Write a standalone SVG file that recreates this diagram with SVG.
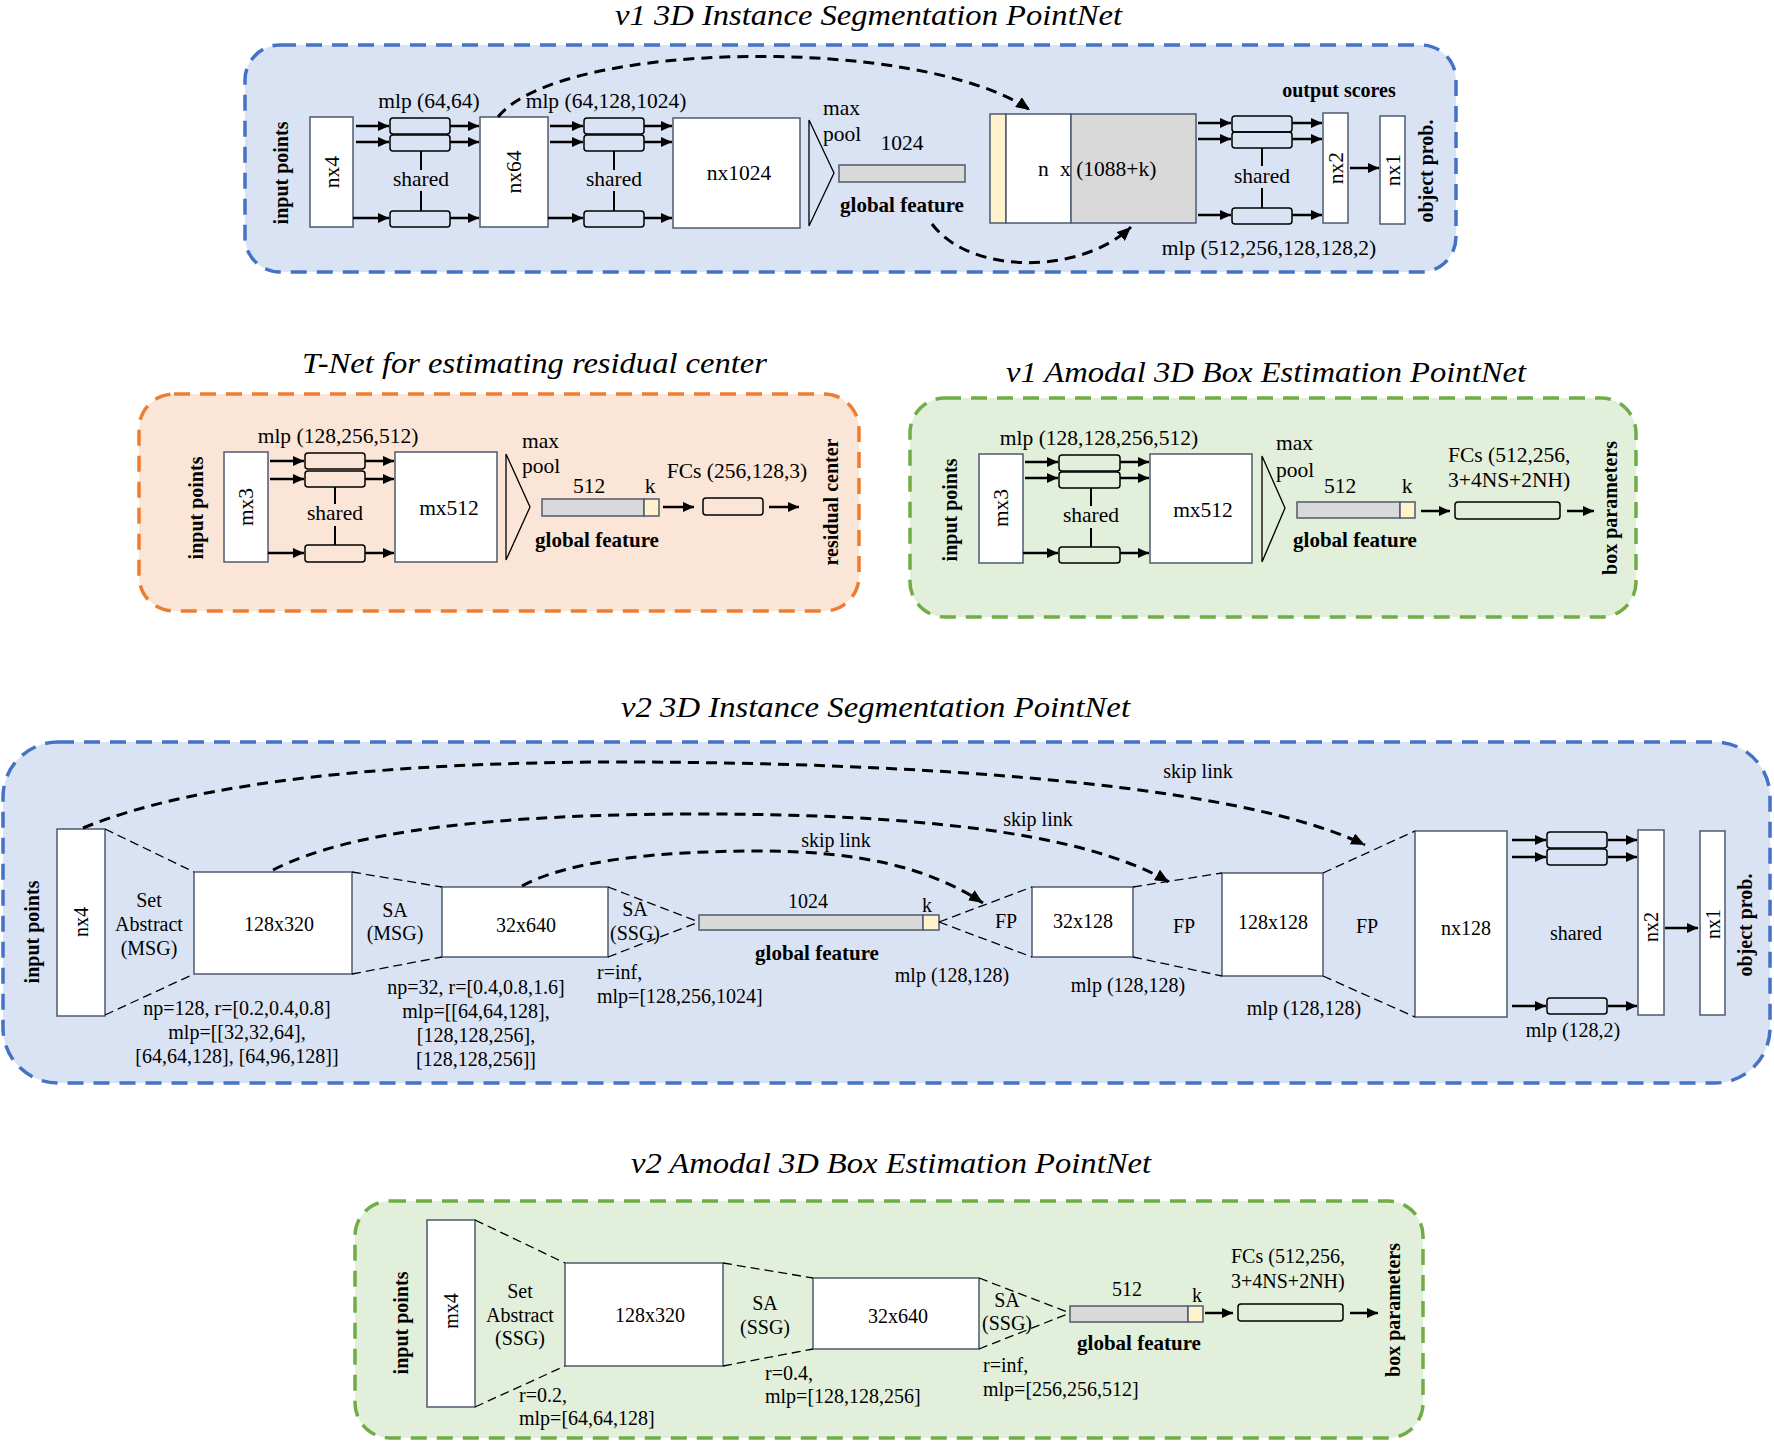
<svg xmlns="http://www.w3.org/2000/svg" width="1774" height="1442" viewBox="0 0 1774 1442">
<defs>
<style>
text{font-family:"Liberation Serif","Times New Roman",serif;fill:#000}
.t{font-size:21.5px}
.s{font-size:20px}
.b{font-weight:bold;font-size:20px}
.gf{font-weight:bold;font-size:21px}
.ti{font-style:italic;font-size:30px}
.m{text-anchor:middle}
.box{fill:#fff;stroke:#4d5b6e;stroke-width:1.5}
.gray{fill:#d9d9d9;stroke:#4d5b6e;stroke-width:1.5}
.yel{fill:#fff2cc;stroke:#4d5b6e;stroke-width:1.5}
.ml{fill:none;stroke:#000;stroke-width:1.5}
.ln{stroke:#000;stroke-width:2}
.arr{stroke:#000;stroke-width:2.5;marker-end:url(#ah)}
.dc{fill:none;stroke:#000;stroke-width:3;stroke-dasharray:11 7;marker-end:url(#ah2)}
.tz{stroke:#000;stroke-width:1.3;stroke-dasharray:9 5}
.tri{fill:none;stroke:#000;stroke-width:1.3}
.sb{stroke-width:3.5;stroke-dasharray:16 10}
</style>
<marker id="ah" markerUnits="userSpaceOnUse" markerWidth="11" markerHeight="10" refX="11" refY="5" orient="auto"><path d="M0,0 L11,5 L0,10 z" fill="#000"/></marker>
<marker id="ah2" markerUnits="userSpaceOnUse" markerWidth="14" markerHeight="12" refX="14" refY="6" orient="auto"><path d="M0,0 L14,6 L0,12 z" fill="#000"/></marker>
</defs>
<rect width="1774" height="1442" fill="#fff"/>

<!-- section frames -->
<g id="frames">
<rect class="sb" x="245" y="45" width="1211" height="227" rx="35" fill="#dae3f3" stroke="#4472c4"/>
<rect class="sb" x="139" y="394" width="720" height="217" rx="35" fill="#fbe5d6" stroke="#ed7d31"/>
<rect class="sb" x="910" y="398" width="726" height="219" rx="35" fill="#e2efda" stroke="#70ad47"/>
<rect class="sb" x="3" y="742" width="1767" height="341" rx="55" fill="#dae3f3" stroke="#4472c4"/>
<rect class="sb" x="355" y="1201" width="1068" height="237" rx="35" fill="#e2efda" stroke="#70ad47"/>
</g>

<g id="titles">
<text class="ti" x="615" y="25" textLength="507" lengthAdjust="spacingAndGlyphs">v1 3D Instance Segmentation PointNet</text>
<text class="ti" x="302" y="373" textLength="465" lengthAdjust="spacingAndGlyphs">T-Net for estimating residual center</text>
<text class="ti" x="1006" y="382" textLength="520" lengthAdjust="spacingAndGlyphs">v1 Amodal 3D Box Estimation PointNet</text>
<text class="ti" x="621" y="717" textLength="509" lengthAdjust="spacingAndGlyphs">v2 3D Instance Segmentation PointNet</text>
<text class="ti" x="631" y="1173" textLength="520" lengthAdjust="spacingAndGlyphs">v2 Amodal 3D Box Estimation PointNet</text>
</g>

<!-- ===== v1 seg ===== -->
<g id="v1-input"><text class="b m" dominant-baseline="central" transform="translate(281,173) rotate(-90)">input points</text></g>
<g id="v1-nx4"><rect class="box" x="310" y="117" width="43" height="110"/><text class="t m" dominant-baseline="central" transform="translate(332,172) rotate(-90)">nx4</text></g>
<g id="v1-mlp1">
<text class="t m" x="429" y="108">mlp (64,64)</text>
<rect class="ml" x="390" y="118" width="60" height="16" rx="3"/>
<rect class="ml" x="390" y="135" width="60" height="16" rx="3"/>
<rect class="ml" x="390" y="211" width="60" height="16" rx="3"/>
<line class="ln" x1="421" y1="151" x2="421" y2="170"/><line class="ln" x1="421" y1="191" x2="421" y2="211"/>
<text class="t m" x="421" y="186">shared</text>
</g>
<g id="v1-nx64"><rect class="box" x="480" y="117" width="68" height="110"/><text class="t m" dominant-baseline="central" transform="translate(514,172) rotate(-90)">nx64</text></g>
<g id="v1-mlp2">
<text class="t m" x="606" y="108">mlp (64,128,1024)</text>
<rect class="ml" x="584" y="118" width="60" height="16" rx="3"/>
<rect class="ml" x="584" y="135" width="60" height="16" rx="3"/>
<rect class="ml" x="584" y="211" width="60" height="16" rx="3"/>
<line class="ln" x1="614" y1="151" x2="614" y2="170"/><line class="ln" x1="614" y1="191" x2="614" y2="211"/>
<text class="t m" x="614" y="186">shared</text>
</g>
<g id="v1-nx1024"><rect class="box" x="673" y="118" width="127" height="110"/><text class="t m" x="739" y="180">nx1024</text></g>
<g id="v1-maxpool"><polygon class="tri" points="809,120 834,173 809,226"/><text class="t" x="823" y="115">max</text><text class="t" x="823" y="141">pool</text></g>
<g id="v1-global"><text class="t m" x="902" y="150">1024</text><rect class="gray" x="839" y="165" width="126" height="17"/><text class="gf m" x="902" y="212">global feature</text></g>
<g id="v1-concat">
<rect class="yel" x="990" y="114" width="16" height="109"/>
<rect class="box" x="1006" y="114" width="65" height="109"/>
<rect class="gray" x="1071" y="114" width="125" height="109"/>
<text class="t" x="1038" y="176">n</text><text class="t" x="1060" y="176">x (1088+k)</text>
</g>
<g id="v1-mlp3">
<text class="b m" x="1339" y="97">output scores</text>
<rect class="ml" x="1232" y="116" width="60" height="16" rx="3"/>
<rect class="ml" x="1232" y="132" width="60" height="16" rx="3"/>
<rect class="ml" x="1232" y="208" width="60" height="16" rx="3"/>
<line class="ln" x1="1262" y1="148" x2="1262" y2="166"/><line class="ln" x1="1262" y1="188" x2="1262" y2="208"/>
<text class="t m" x="1262" y="183">shared</text>
<text class="t m" x="1269" y="255">mlp (512,256,128,128,2)</text>
</g>
<g id="v1-nx2"><rect class="box" x="1323" y="113" width="25" height="110"/><text class="t m" dominant-baseline="central" transform="translate(1336,168) rotate(-90)">nx2</text></g>
<g id="v1-nx1"><rect class="box" x="1380" y="116" width="25" height="108"/><text class="t m" dominant-baseline="central" transform="translate(1393,170) rotate(-90)">nx1</text></g>
<g id="v1-out"><text class="b m" dominant-baseline="central" transform="translate(1426,171) rotate(-90)">object prob.</text></g>

<!-- ===== T-Net ===== -->
<g id="tn-input"><text class="b m" dominant-baseline="central" transform="translate(196,508) rotate(-90)">input points</text></g>
<g id="tn-mx3"><rect class="box" x="224" y="452" width="44" height="110"/><text class="t m" dominant-baseline="central" transform="translate(246,507) rotate(-90)">mx3</text></g>
<g id="tn-mlp">
<text class="t m" x="338" y="443">mlp (128,256,512)</text>
<rect class="ml" x="305" y="453" width="60" height="16" rx="3"/>
<rect class="ml" x="305" y="471" width="60" height="16" rx="3"/>
<rect class="ml" x="305" y="545" width="60" height="17" rx="3"/>
<line class="ln" x1="335" y1="487" x2="335" y2="504"/><line class="ln" x1="335" y1="526" x2="335" y2="545"/>
<text class="t m" x="335" y="520">shared</text>
</g>
<g id="tn-mx512"><rect class="box" x="395" y="452" width="102" height="110"/><text class="t m" x="449" y="515">mx512</text></g>
<g id="tn-maxpool"><polygon class="tri" points="506,454 530,507 506,560"/><text class="t" x="522" y="448">max</text><text class="t" x="522" y="473">pool</text></g>
<g id="tn-global"><text class="t m" x="589" y="493">512</text><text class="t m" x="650" y="493">k</text><rect class="gray" x="542" y="499" width="102" height="17"/><rect class="yel" x="644" y="499" width="15" height="17"/><text class="gf m" x="597" y="547">global feature</text></g>
<g id="tn-fc"><text class="t m" x="737" y="478">FCs (256,128,3)</text><rect class="ml" x="703" y="498" width="60" height="17" rx="3"/></g>
<g id="tn-out"><text class="b m" dominant-baseline="central" transform="translate(831,502) rotate(-90)">residual center</text></g>

<!-- ===== v1 amodal ===== -->
<g id="a1-input"><text class="b m" dominant-baseline="central" transform="translate(950,510) rotate(-90)">input points</text></g>
<g id="a1-mx3"><rect class="box" x="979" y="454" width="44" height="109"/><text class="t m" dominant-baseline="central" transform="translate(1001,508) rotate(-90)">mx3</text></g>
<g id="a1-mlp">
<text class="t m" x="1099" y="445">mlp (128,128,256,512)</text>
<rect class="ml" x="1059" y="455" width="61" height="16" rx="3"/>
<rect class="ml" x="1059" y="472" width="61" height="16" rx="3"/>
<rect class="ml" x="1059" y="547" width="61" height="16" rx="3"/>
<line class="ln" x1="1091" y1="488" x2="1091" y2="506"/><line class="ln" x1="1091" y1="528" x2="1091" y2="547"/>
<text class="t m" x="1091" y="522">shared</text>
</g>
<g id="a1-mx512"><rect class="box" x="1150" y="454" width="102" height="109"/><text class="t m" x="1203" y="517">mx512</text></g>
<g id="a1-maxpool"><polygon class="tri" points="1262,456 1285,508 1262,562"/><text class="t" x="1276" y="450">max</text><text class="t" x="1276" y="477">pool</text></g>
<g id="a1-global"><text class="t m" x="1340" y="493">512</text><text class="t m" x="1407" y="493">k</text><rect class="gray" x="1297" y="502" width="103" height="16"/><rect class="yel" x="1400" y="502" width="15" height="16"/><text class="gf m" x="1355" y="547">global feature</text></g>
<g id="a1-fc"><text class="t" x="1448" y="462">FCs (512,256,</text><text class="t" x="1448" y="487">3+4NS+2NH)</text><rect class="ml" x="1455" y="502" width="105" height="17" rx="3"/></g>
<g id="a1-out"><text class="b m" dominant-baseline="central" transform="translate(1610,508) rotate(-90)">box parameters</text></g>

<!-- ===== v2 seg ===== -->
<g id="v2-input"><text class="b m" dominant-baseline="central" transform="translate(32,932) rotate(-90)">input points</text></g>
<g id="v2-nx4"><rect class="box" x="57" y="829" width="48" height="187"/><text class="s m" dominant-baseline="central" transform="translate(81,922) rotate(-90)">nx4</text></g>
<g id="v2-sa1"><text class="s m" x="149" y="907">Set</text><text class="s m" x="149" y="931">Abstract</text><text class="s m" x="149" y="955">(MSG)</text>
<text class="s m" x="237" y="1015">np=128, r=[0.2,0.4,0.8]</text><text class="s m" x="237" y="1039">mlp=[[32,32,64],</text><text class="s m" x="237" y="1063">[64,64,128], [64,96,128]]</text></g>
<g id="v2-128x320"><rect class="box" x="194" y="872" width="158" height="102"/><text class="s m" x="279" y="931">128x320</text></g>
<g id="v2-sa2"><text class="s m" x="395" y="917">SA</text><text class="s m" x="395" y="940">(MSG)</text>
<text class="s m" x="476" y="994">np=32, r=[0.4,0.8,1.6]</text><text class="s m" x="476" y="1018">mlp=[[64,64,128],</text><text class="s m" x="476" y="1042">[128,128,256],</text><text class="s m" x="476" y="1066">[128,128,256]]</text></g>
<g id="v2-32x640"><rect class="box" x="442" y="887" width="166" height="70"/><text class="s m" x="526" y="932">32x640</text></g>
<g id="v2-sa3"><text class="s m" x="635" y="916">SA</text><text class="s m" x="635" y="940">(SSG)</text><text class="s" x="597" y="979">r=inf,</text><text class="s" x="597" y="1003">mlp=[128,256,1024]</text></g>
<g id="v2-global"><text class="s m" x="808" y="908">1024</text><text class="s m" x="927" y="912">k</text><rect class="gray" x="699" y="915" width="224" height="15"/><rect class="yel" x="923" y="915" width="16" height="15"/><text class="gf m" x="817" y="960">global feature</text></g>
<g id="v2-fp1"><text class="s m" x="1006" y="928">FP</text><text class="s m" x="952" y="982">mlp (128,128)</text></g>
<g id="v2-32x128"><rect class="box" x="1032" y="887" width="101" height="70"/><text class="s m" x="1083" y="928">32x128</text></g>
<g id="v2-fp2"><text class="s m" x="1184" y="933">FP</text><text class="s m" x="1128" y="992">mlp (128,128)</text></g>
<g id="v2-128x128"><rect class="box" x="1222" y="873" width="101" height="103"/><text class="s m" x="1273" y="929">128x128</text></g>
<g id="v2-fp3"><text class="s m" x="1367" y="933">FP</text><text class="s m" x="1304" y="1015">mlp (128,128)</text></g>
<g id="v2-nx128"><rect class="box" x="1415" y="831" width="92" height="186"/><text class="s m" x="1466" y="935">nx128</text></g>
<g id="v2-mlp">
<rect class="ml" x="1547" y="832" width="60" height="16" rx="3"/>
<rect class="ml" x="1547" y="849" width="60" height="16" rx="3"/>
<rect class="ml" x="1547" y="998" width="60" height="16" rx="3"/>
<text class="s m" x="1576" y="940">shared</text>
<text class="s m" x="1573" y="1037">mlp (128,2)</text>
</g>
<g id="v2-nx2"><rect class="box" x="1638" y="830" width="26" height="185"/><text class="s m" dominant-baseline="central" transform="translate(1651,927) rotate(-90)">nx2</text></g>
<g id="v2-nx1"><rect class="box" x="1700" y="831" width="25" height="184"/><text class="s m" dominant-baseline="central" transform="translate(1713,924) rotate(-90)">nx1</text></g>
<g id="v2-out"><text class="b m" dominant-baseline="central" transform="translate(1745,925) rotate(-90)">object prob.</text></g>

<!-- ===== v2 amodal ===== -->
<g id="a2-input"><text class="b m" dominant-baseline="central" transform="translate(401,1323) rotate(-90)">input points</text></g>
<g id="a2-mx4"><rect class="box" x="427" y="1220" width="48" height="187"/><text class="s m" dominant-baseline="central" transform="translate(451,1311) rotate(-90)">mx4</text></g>
<g id="a2-sa1"><text class="s m" x="520" y="1298">Set</text><text class="s m" x="520" y="1322">Abstract</text><text class="s m" x="520" y="1345">(SSG)</text><text class="s" x="519" y="1402">r=0.2,</text><text class="s" x="519" y="1425">mlp=[64,64,128]</text></g>
<g id="a2-128x320"><rect class="box" x="565" y="1263" width="158" height="103"/><text class="s m" x="650" y="1322">128x320</text></g>
<g id="a2-sa2"><text class="s m" x="765" y="1310">SA</text><text class="s m" x="765" y="1334">(SSG)</text><text class="s" x="765" y="1380">r=0.4,</text><text class="s" x="765" y="1403">mlp=[128,128,256]</text></g>
<g id="a2-32x640"><rect class="box" x="813" y="1278" width="166" height="71"/><text class="s m" x="898" y="1323">32x640</text></g>
<g id="a2-sa3"><text class="s m" x="1007" y="1307">SA</text><text class="s m" x="1007" y="1330">(SSG)</text><text class="s" x="983" y="1372">r=inf,</text><text class="s" x="983" y="1396">mlp=[256,256,512]</text></g>
<g id="a2-global"><text class="s m" x="1127" y="1296">512</text><text class="s m" x="1197" y="1302">k</text><rect class="gray" x="1070" y="1306" width="118" height="16"/><rect class="yel" x="1188" y="1306" width="15" height="16"/><text class="gf m" x="1139" y="1350">global feature</text></g>
<g id="a2-fc"><text class="s" x="1231" y="1263">FCs (512,256,</text><text class="s" x="1231" y="1288">3+4NS+2NH)</text><rect class="ml" x="1238" y="1304" width="105" height="17" rx="3"/></g>
<g id="a2-out"><text class="b m" dominant-baseline="central" transform="translate(1393,1310) rotate(-90)">box parameters</text></g>

<!-- ===== connectors ===== -->
<g id="connectors">
<!-- v1 seg -->
<line class="arr" x1="356" y1="126" x2="389" y2="126"/><line class="arr" x1="356" y1="142" x2="389" y2="142"/><line class="arr" x1="353" y1="218" x2="389" y2="218"/>
<line class="arr" x1="450" y1="126" x2="479" y2="126"/><line class="arr" x1="450" y1="142" x2="479" y2="142"/><line class="arr" x1="450" y1="218" x2="479" y2="218"/>
<line class="arr" x1="550" y1="126" x2="583" y2="126"/><line class="arr" x1="550" y1="142" x2="583" y2="142"/><line class="arr" x1="548" y1="218" x2="583" y2="218"/>
<line class="arr" x1="644" y1="126" x2="672" y2="126"/><line class="arr" x1="644" y1="142" x2="672" y2="142"/><line class="arr" x1="644" y1="218" x2="672" y2="218"/>
<line class="arr" x1="1198" y1="123" x2="1231" y2="123"/><line class="arr" x1="1198" y1="139" x2="1231" y2="139"/><line class="arr" x1="1198" y1="215" x2="1231" y2="215"/>
<line class="arr" x1="1292" y1="123" x2="1322" y2="123"/><line class="arr" x1="1292" y1="139" x2="1322" y2="139"/><line class="arr" x1="1292" y1="215" x2="1322" y2="215"/>
<line class="arr" x1="1350" y1="168" x2="1379" y2="168"/>
<path class="dc" d="M498,117 C560,40 920,35 1030,110"/>
<path class="dc" d="M932,224 C970,275 1080,275 1131,227"/>
<!-- T-Net -->
<line class="arr" x1="270" y1="461" x2="304" y2="461"/><line class="arr" x1="270" y1="479" x2="304" y2="479"/><line class="arr" x1="268" y1="553" x2="304" y2="553"/>
<line class="arr" x1="365" y1="461" x2="394" y2="461"/><line class="arr" x1="365" y1="479" x2="394" y2="479"/><line class="arr" x1="365" y1="553" x2="394" y2="553"/>
<line class="arr" x1="663" y1="507" x2="694" y2="507"/>
<line class="arr" x1="769" y1="507" x2="799" y2="507"/>
<!-- v1 amodal -->
<line class="arr" x1="1025" y1="462" x2="1058" y2="462"/><line class="arr" x1="1025" y1="478" x2="1058" y2="478"/><line class="arr" x1="1023" y1="553" x2="1058" y2="553"/>
<line class="arr" x1="1120" y1="462" x2="1149" y2="462"/><line class="arr" x1="1120" y1="478" x2="1149" y2="478"/><line class="arr" x1="1120" y1="553" x2="1149" y2="553"/>
<line class="arr" x1="1421" y1="511" x2="1450" y2="511"/>
<line class="arr" x1="1567" y1="511" x2="1594" y2="511"/>
<!-- v2 seg -->
<line class="tz" x1="105" y1="829" x2="194" y2="872"/><line class="tz" x1="105" y1="1015" x2="194" y2="974"/>
<line class="tz" x1="352" y1="872" x2="442" y2="887"/><line class="tz" x1="352" y1="974" x2="442" y2="957"/>
<line class="tz" x1="608" y1="887" x2="699" y2="922"/><line class="tz" x1="608" y1="957" x2="699" y2="922"/>
<line class="tz" x1="939" y1="922" x2="1032" y2="887"/><line class="tz" x1="939" y1="922" x2="1032" y2="957"/>
<line class="tz" x1="1133" y1="887" x2="1222" y2="873"/><line class="tz" x1="1133" y1="957" x2="1222" y2="976"/>
<line class="tz" x1="1323" y1="873" x2="1415" y2="831"/><line class="tz" x1="1323" y1="976" x2="1415" y2="1017"/>
<line class="arr" x1="1512" y1="840" x2="1546" y2="840"/><line class="arr" x1="1512" y1="857" x2="1546" y2="857"/><line class="arr" x1="1512" y1="1006" x2="1546" y2="1006"/>
<line class="arr" x1="1608" y1="840" x2="1637" y2="840"/><line class="arr" x1="1608" y1="857" x2="1637" y2="857"/><line class="arr" x1="1608" y1="1006" x2="1637" y2="1006"/>
<line class="arr" x1="1665" y1="928" x2="1698" y2="928"/>
<path class="dc" d="M83,828 C200,780 400,762 620,762 S1220,775 1365,845"/>
<path class="dc" d="M273,870 C350,830 500,814 700,814 S1080,830 1169,882"/>
<path class="dc" d="M522,886 C570,860 660,851 760,851 S930,868 983,903"/>
<text class="s m" x="1198" y="778">skip link</text>
<text class="s m" x="1038" y="826">skip link</text>
<text class="s m" x="836" y="847">skip link</text>
<!-- v2 amodal -->
<line class="tz" x1="475" y1="1220" x2="565" y2="1263"/><line class="tz" x1="475" y1="1407" x2="565" y2="1366"/>
<line class="tz" x1="723" y1="1263" x2="813" y2="1278"/><line class="tz" x1="723" y1="1366" x2="813" y2="1349"/>
<line class="tz" x1="979" y1="1278" x2="1070" y2="1313"/><line class="tz" x1="979" y1="1349" x2="1070" y2="1313"/>
<line class="arr" x1="1205" y1="1313" x2="1233" y2="1313"/>
<line class="arr" x1="1350" y1="1313" x2="1378" y2="1313"/>
</g>
</svg>
